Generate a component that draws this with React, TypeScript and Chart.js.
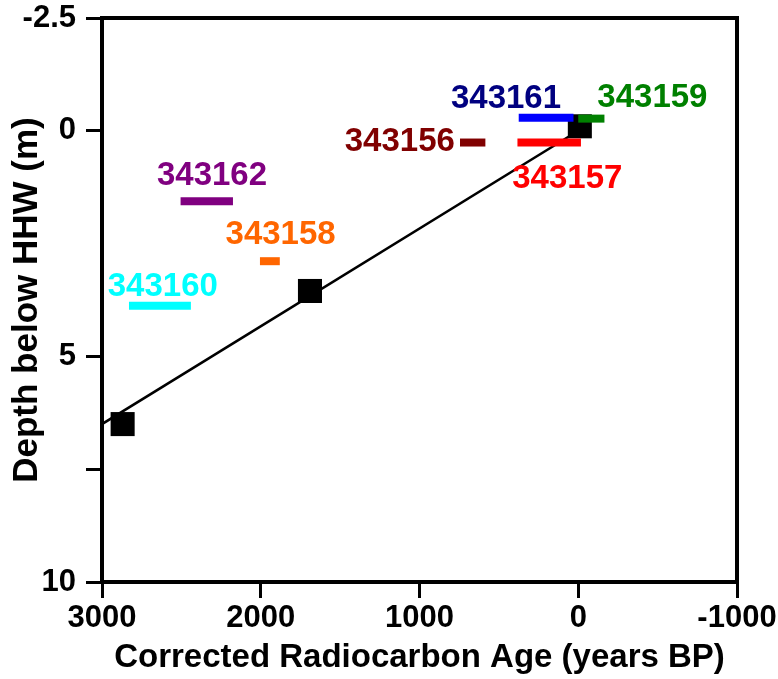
import React, { useEffect, useRef } from 'react';
import { Chart, registerables } from 'chart.js';

Chart.register(...registerables);

// Axis ticks
const X_TICKS = [3000, 2000, 1000, 0, -1000];
const X_TICK_LABELS = ['3000', '2000', '1000', '0', '-1000'];
const Y_TICKS = [-2.5, 0, 5, 7.5, 10];
const Y_TICK_LABELS = ['-2.5', '0', '5', '', '10'];

// Dated horizons (black squares)
const SAMPLE_AGES = [2870, 1690, -10];
const SAMPLE_DEPTHS = [6.5, 3.55, -0.1];

// Fitted line
const FIT_AGES = [3000, 0];
const FIT_DEPTHS = [6.5, 0];

// Radiocarbon samples (age ranges)
const SAMPLE_IDS = ['343161', '343159', '343156', '343157', '343162', '343158', '343160'];
const RANGE_OLDEST = [375, 0, 745, 383, 2505, 2005, 2830];
const RANGE_YOUNGEST = [30, -165, 585, -17, 2175, 1880, 2440];
const RANGE_DEPTHS = [-0.29, -0.27, 0.26, 0.26, 1.56, 2.89, 3.88];
const LABEL_AGES = [455, -467, 1124, 69, 2307, 1875, 2617];
const LABEL_DEPTHS = [-0.71, -0.72, 0.25, 1.07, 1.01, 2.3, 3.45];

const BAR_COLORS = ['#0000FF', '#008000', '#800000', '#FF0000', '#800080', '#FF6600', '#00FFFF'];
const LABEL_COLORS = ['#000080', '#008000', '#800000', '#FF0000', '#800080', '#FF6600', '#00FFFF'];

const FAMILY = '"Liberation Sans", Arial, Helvetica, sans-serif';

const framePlugin = {
  id: 'frameAndLabels',
  afterDatasetsDraw(chart: any) {
    const { ctx, scales } = chart;
    ctx.save();
    ctx.font = `bold 33px ${FAMILY}`;
    ctx.textAlign = 'center';
    ctx.textBaseline = 'middle';
    SAMPLE_IDS.forEach((id, i) => {
      ctx.fillStyle = LABEL_COLORS[i];
      ctx.fillText(id, scales.x.getPixelForValue(LABEL_AGES[i]), scales.y.getPixelForValue(LABEL_DEPTHS[i]));
    });
    ctx.restore();
  },
  afterDraw(chart: any) {
    const { ctx, chartArea: a } = chart;
    ctx.save();
    ctx.strokeStyle = '#000';
    ctx.lineWidth = 4;
    ctx.strokeRect(a.left, a.top, a.right - a.left, a.bottom - a.top);
    ctx.restore();
  },
};

export default function App() {
  const ref = useRef<HTMLCanvasElement>(null);

  useEffect(() => {
    document.body.style.margin = '0';
    if (!ref.current) return;

    const rangeSets = SAMPLE_IDS.map((id, i) => ({
      type: 'scatter' as const,
      label: id,
      data: [
        { x: RANGE_OLDEST[i], y: RANGE_DEPTHS[i] },
        { x: RANGE_YOUNGEST[i], y: RANGE_DEPTHS[i] },
      ],
      showLine: true,
      borderColor: BAR_COLORS[i],
      backgroundColor: BAR_COLORS[i],
      borderWidth: 8,
      borderCapStyle: 'butt' as const,
      pointRadius: 0,
      order: 1,
    }));

    const chart = new Chart(ref.current, {
      type: 'scatter',
      data: {
        datasets: [
          ...rangeSets,
          {
            label: 'samples',
            data: SAMPLE_AGES.map((x, i) => ({ x, y: SAMPLE_DEPTHS[i] })),
            pointStyle: 'rect',
            pointRadius: 17,
            backgroundColor: '#000',
            borderWidth: 0,
            order: 2,
          },
          {
            label: 'fit',
            data: FIT_AGES.map((x, i) => ({ x, y: FIT_DEPTHS[i] })),
            showLine: true,
            borderColor: '#000',
            borderWidth: 2.5,
            pointRadius: 0,
            order: 3,
          },
        ] as any,
      },
      options: {
        animation: false,
        responsive: true,
        maintainAspectRatio: false,
        events: [],
        layout: { padding: { left: 0, right: 41, top: 18, bottom: 0 } },
        plugins: { legend: { display: false }, tooltip: { enabled: false } },
        scales: {
          x: {
            type: 'linear',
            min: -1000,
            max: 3000,
            reverse: true,
            afterBuildTicks: (s: any) => {
              s.ticks = X_TICKS.map((v) => ({ value: v }));
            },
            afterFit: (s: any) => {
              s.height = 97;
              s.paddingLeft = 0;
              s.paddingRight = 0;
            },
            ticks: {
              autoSkip: false,
              maxRotation: 0,
              padding: 2,
              color: '#000',
              font: { family: FAMILY, size: 31, weight: 'bold' },
              callback: (v: any) => X_TICK_LABELS[X_TICKS.indexOf(Number(v))],
            },
            grid: { drawOnChartArea: false, drawTicks: true, tickLength: 16, color: '#000', lineWidth: 3 },
            border: { display: false },
            title: {
              display: true,
              text: 'Corrected Radiocarbon Age (years BP)',
              color: '#000',
              font: { family: FAMILY, size: 33, weight: 'bold' },
              padding: { top: 0, bottom: 1 },
            },
          },
          y: {
            type: 'linear',
            min: -2.5,
            max: 10,
            reverse: true,
            afterBuildTicks: (s: any) => {
              s.ticks = Y_TICKS.map((v) => ({ value: v }));
            },
            afterFit: (s: any) => {
              s.width = 102;
              s.paddingTop = 0;
              s.paddingBottom = 0;
            },
            ticks: {
              autoSkip: false,
              padding: 10,
              color: '#000',
              font: { family: FAMILY, size: 31, weight: 'bold' },
              callback: (v: any) => Y_TICK_LABELS[Y_TICKS.indexOf(Number(v))],
            },
            grid: { drawOnChartArea: false, drawTicks: true, tickLength: 16, color: '#000', lineWidth: 3 },
            border: { display: false },
            title: {
              display: true,
              text: 'Depth below HHW (m)',
              color: '#000',
              font: { family: FAMILY, size: 35, weight: 'bold' },
              padding: { top: 6, bottom: 0 },
            },
          },
        },
      } as any,
      plugins: [framePlugin],
    });

    return () => chart.destroy();
  }, []);

  return (
    <div style={{ position: 'relative', width: 778, height: 679 }}>
      <canvas ref={ref} />
    </div>
  );
}
